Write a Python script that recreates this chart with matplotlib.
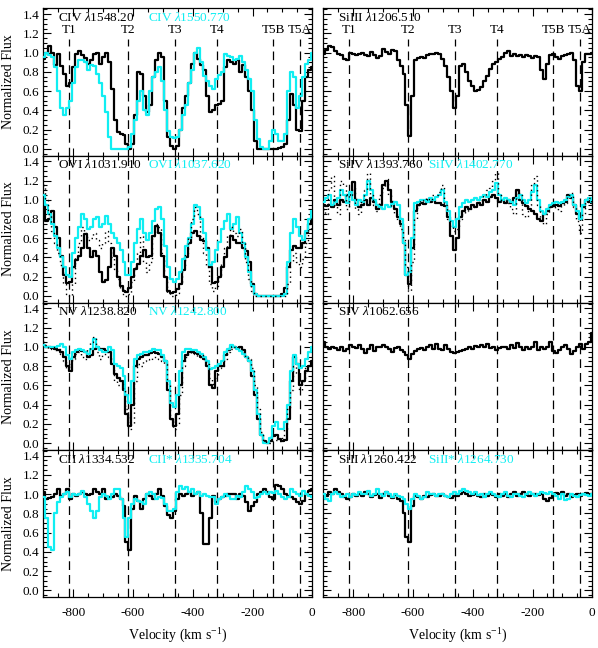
import numpy as np
import matplotlib
matplotlib.use('Agg')
import matplotlib.pyplot as plt
from matplotlib.ticker import MultipleLocator

plt.rcParams['font.family'] = ['Liberation Serif', 'DejaVu Serif']
plt.rcParams['mathtext.fontset'] = 'custom'
plt.rcParams['mathtext.rm'] = 'Liberation Serif'
plt.rcParams['mathtext.it'] = 'Liberation Serif:italic'
plt.rcParams['axes.unicode_minus'] = False

CYAN = '#10eef2'

# velocity grid (km/s), 10 km/s bins
vel = np.arange(-900, 1, 10)

# absorption components
comp_names = ['T1', 'T2', 'T3', 'T4', 'T5B', 'T5A']
comp_vel = [-815, -615, -460, -320, -130, -40]

# normalized fluxes, one value per velocity bin (-900 ... 0)
civ_1548 = [
    0.93, 1.00, 1.07, 1.00, 0.87, 0.98, 0.86, 0.78, 0.65, 0.68,
    0.85, 0.98, 1.02, 0.97, 0.94, 0.88, 0.92, 0.98, 1.00, 0.88,
    0.95, 1.00, 0.90, 0.62, 0.30, 0.17, 0.15, 0.14, 0.05, 0.00,
    0.05, 0.35, 0.80, 0.78, 0.55, 0.38, 0.45, 0.75, 0.92, 1.00,
    0.95, 0.50, 0.12, 0.03, 0.00, 0.03, 0.20, 0.42, 0.55, 0.68,
    0.88, 1.00, 0.93, 0.87, 0.82, 0.55, 0.38, 0.40, 0.45, 0.47,
    0.50, 0.85, 0.92, 0.90, 0.88, 0.92, 0.80, 0.87, 0.75, 0.60,
    0.40, 0.08, 0.00, 0.00, 0.00, 0.00, 0.00, 0.00, 0.00, 0.01,
    0.02, 0.05, 0.30, 0.57, 0.45, 0.20, 0.18, 0.50, 0.75, 0.82, 0.85]
civ_1550 = [
    0.95, 1.00, 0.97, 0.95, 0.85, 0.60, 0.42, 0.35, 0.42, 0.50,
    0.68, 0.85, 0.92, 0.92, 0.90, 0.82, 0.87, 0.86, 0.78, 0.68,
    0.55, 0.38, 0.12, 0.00, 0.00, 0.00, 0.00, 0.00, 0.00, 0.02,
    0.15, 0.30, 0.50, 0.60, 0.40, 0.35, 0.60, 0.75, 0.80, 0.85,
    0.70, 0.40, 0.18, 0.12, 0.11, 0.12, 0.20, 0.35, 0.45, 0.68,
    0.82, 1.00, 1.05, 0.90, 0.76, 0.70, 0.65, 0.62, 0.72, 0.77,
    0.80, 0.98, 0.96, 0.95, 0.92, 0.93, 0.96, 0.90, 0.82, 0.72,
    0.60, 0.30, 0.10, 0.02, 0.00, 0.00, 0.08, 0.20, 0.15, 0.08,
    0.08, 0.15, 0.60, 0.80, 0.75, 0.42, 0.55, 0.75, 0.88, 0.92, 1.00]
siiii_1206 = [
    0.99, 1.03, 1.07, 1.06, 1.02, 0.98, 0.97, 0.93, 0.92, 1.00,
    0.98, 0.97, 0.99, 1.00, 0.97, 0.96, 1.01, 0.97, 0.94, 0.96,
    1.04, 1.01, 0.99, 1.03, 1.02, 0.92, 0.86, 0.78, 0.45, 0.13,
    0.55, 0.92, 0.94, 0.95, 0.94, 0.97, 0.98, 0.99, 1.00, 0.99,
    0.93, 0.86, 0.75, 0.60, 0.42, 0.55, 0.86, 0.88, 0.80, 0.70,
    0.65, 0.60, 0.61, 0.64, 0.70, 0.76, 0.83, 0.88, 0.90, 0.93,
    0.95, 1.00, 1.02, 0.96, 0.99, 0.96, 0.97, 0.95, 0.97, 0.96,
    0.94, 0.96, 0.95, 0.82, 0.72, 0.88, 0.97, 0.98, 0.95, 0.93,
    0.96, 0.97, 0.99, 1.00, 0.92, 0.65, 0.60, 0.90, 0.99, 0.98, 1.00]
ovi_1031 = [
    0.97, 0.78, 0.80, 0.88, 0.72, 0.60, 0.42, 0.22, 0.13, 0.14,
    0.30, 0.37, 0.42, 0.50, 0.64, 0.50, 0.40, 0.47, 0.42, 0.25,
    0.15, 0.17, 0.30, 0.50, 0.42, 0.20, 0.10, 0.05, 0.04, 0.08,
    0.20, 0.28, 0.33, 0.42, 0.48, 0.40, 0.42, 0.62, 0.73, 0.65,
    0.42, 0.20, 0.05, 0.03, 0.04, 0.07, 0.12, 0.27, 0.40, 0.55,
    0.65, 0.68, 0.62, 0.58, 0.57, 0.50, 0.30, 0.13, 0.14, 0.20,
    0.30, 0.40, 0.50, 0.62, 0.58, 0.55, 0.55, 0.50, 0.47, 0.35,
    0.12, 0.02, 0.00, 0.00, 0.00, 0.00, 0.00, 0.00, 0.00, 0.00,
    0.02, 0.08, 0.30, 0.48, 0.52, 0.50, 0.50, 0.55, 0.65, 0.75, 0.80]
ovi_1037 = [
    1.05, 0.95, 0.85, 0.75, 0.62, 0.50, 0.40, 0.30, 0.22, 0.20,
    0.45, 0.60, 0.72, 0.85, 0.80, 0.70, 0.72, 0.80, 0.82, 0.72,
    0.75, 0.83, 0.75, 0.65, 0.60, 0.55, 0.48, 0.35, 0.22, 0.22,
    0.35, 0.55, 0.70, 0.80, 0.65, 0.58, 0.65, 0.78, 0.90, 0.92,
    0.80, 0.52, 0.30, 0.18, 0.15, 0.18, 0.25, 0.38, 0.52, 0.60,
    0.75, 0.95, 0.92, 0.80, 0.65, 0.48, 0.32, 0.35, 0.48, 0.56,
    0.70, 0.78, 0.85, 0.70, 0.75, 0.82, 0.65, 0.55, 0.40, 0.25,
    0.10, 0.02, 0.00, 0.00, 0.00, 0.00, 0.00, 0.00, 0.00, 0.00,
    0.00, 0.02, 0.35, 0.65, 0.80, 0.72, 0.62, 0.58, 0.68, 0.80, 0.88]
ovi_dot = [
    1.15, 1.00, 0.85, 0.68, 0.55, 0.45, 0.32, 0.12, 0.02, 0.00,
    0.12, 0.40, 0.55, 0.72, 0.65, 0.58, 0.60, 0.65, 0.58, 0.50,
    0.55, 0.68, 0.55, 0.40, 0.28, 0.18, 0.08, 0.00, 0.00, 0.02,
    0.15, 0.30, 0.45, 0.62, 0.35, 0.25, 0.35, 0.62, 0.75, 0.72,
    0.45, 0.20, 0.03, 0.00, 0.00, 0.03, 0.15, 0.28, 0.45, 0.60,
    0.80, 0.92, 0.85, 0.62, 0.45, 0.30, 0.12, 0.05, 0.10, 0.20,
    0.35, 0.50, 0.62, 0.72, 0.65, 0.62, 0.70, 0.55, 0.35, 0.18,
    0.05, 0.00, 0.00, 0.00, 0.00, 0.00, 0.00, 0.00, 0.00, 0.00,
    0.00, 0.00, 0.12, 0.35, 0.45, 0.35, 0.30, 0.38, 0.55, 0.70, 0.82]
siiv_1393 = [
    0.95, 0.93, 0.95, 0.92, 1.00, 0.95, 1.00, 0.98, 1.05, 1.05,
    1.18, 1.00, 0.92, 0.95, 1.00, 0.95, 1.02, 0.98, 0.90, 0.95,
    1.15, 1.20, 1.10, 0.98, 0.90, 0.82, 0.75, 0.55, 0.22, 0.12,
    0.50, 0.88, 0.95, 0.97, 0.96, 1.00, 0.98, 1.00, 0.97, 0.97,
    0.95, 0.94, 0.82, 0.62, 0.48, 0.60, 0.82, 0.88, 0.92, 0.90,
    0.95, 0.92, 0.97, 0.95, 1.00, 0.98, 1.03, 1.05, 1.02, 0.98,
    1.00, 0.97, 1.00, 0.97, 1.02, 1.10, 1.00, 0.97, 0.93, 0.90,
    0.88, 0.85, 0.80, 0.78, 0.85, 0.88, 0.92, 0.93, 0.95, 0.93,
    0.97, 0.98, 1.05, 1.02, 0.95, 0.85, 0.80, 0.92, 1.00, 0.98, 0.97]
siiv_1402 = [
    0.98, 1.02, 1.05, 0.95, 0.98, 1.02, 1.10, 1.05, 0.97, 1.08,
    1.00, 0.95, 1.00, 0.98, 1.05, 1.20, 1.10, 1.00, 0.95, 0.92,
    0.90, 0.95, 0.92, 0.96, 0.98, 0.95, 0.80, 0.55, 0.22, 0.25,
    0.60, 0.97, 0.98, 1.00, 1.00, 0.98, 1.02, 1.00, 1.03, 1.05,
    1.10, 0.98, 0.88, 0.78, 0.72, 0.80, 0.92, 0.97, 1.00, 0.98,
    1.00, 1.02, 1.00, 1.03, 1.05, 1.03, 1.08, 1.10, 1.17, 1.05,
    1.00, 1.02, 1.00, 0.98, 0.95, 1.02, 1.05, 1.00, 0.97, 1.00,
    1.08, 1.15, 1.00, 0.88, 0.85, 0.90, 0.95, 0.97, 0.98, 0.97,
    0.98, 1.00, 1.03, 1.05, 0.95, 0.88, 0.80, 0.95, 1.00, 1.02, 0.98]
siiv_dot = [
    0.90, 0.85, 1.10, 1.25, 0.95, 0.85, 1.20, 1.15, 0.90, 1.05,
    1.12, 0.90, 0.85, 1.00, 1.10, 1.28, 1.05, 0.95, 0.88, 1.05,
    1.12, 1.22, 1.05, 0.92, 0.85, 0.78, 0.70, 0.60, 0.30, 0.05,
    0.35, 0.80, 0.95, 1.00, 0.97, 1.02, 1.00, 1.05, 1.05, 1.08,
    1.15, 0.95, 0.80, 0.72, 0.68, 0.70, 0.80, 0.85, 0.88, 0.90,
    0.92, 0.95, 0.98, 1.00, 1.05, 1.10, 1.12, 1.20, 1.28, 1.05,
    0.98, 1.00, 0.97, 0.90, 0.85, 1.10, 1.05, 0.85, 0.82, 0.95,
    1.15, 1.25, 0.95, 0.80, 0.75, 0.85, 0.92, 0.95, 0.90, 0.88,
    0.93, 0.97, 1.05, 1.07, 0.92, 0.78, 0.65, 0.85, 0.98, 1.02, 0.97]
nv_1238 = [
    1.02, 1.00, 1.00, 0.99, 0.98, 0.97, 0.95, 0.90, 0.80, 0.75,
    0.90, 0.95, 0.97, 0.96, 0.95, 0.90, 0.92, 0.98, 1.00, 0.98,
    0.98, 0.96, 0.95, 0.82, 0.72, 0.68, 0.65, 0.55, 0.30, 0.18,
    0.40, 0.80, 0.88, 0.90, 0.92, 0.92, 0.94, 0.95, 0.94, 0.93,
    0.90, 0.85, 0.55, 0.25, 0.18, 0.30, 0.60, 0.85, 0.92, 0.95,
    0.95, 0.94, 0.93, 0.90, 0.88, 0.80, 0.60, 0.57, 0.75, 0.80,
    0.80, 0.92, 0.97, 1.00, 1.00, 0.99, 1.00, 0.97, 0.90, 0.85,
    0.70, 0.50, 0.25, 0.08, 0.02, 0.00, 0.02, 0.07, 0.08, 0.04,
    0.02, 0.03, 0.25, 0.65, 0.90, 0.82, 0.60, 0.65, 0.75, 0.80, 0.85]
nv_1242 = [
    1.02, 1.00, 1.00, 1.00, 1.00, 1.01, 1.03, 1.00, 0.92, 0.88,
    0.95, 0.97, 0.98, 0.97, 0.95, 0.93, 0.98, 1.08, 1.00, 0.97,
    0.95, 0.95, 1.00, 0.97, 0.82, 0.80, 0.78, 0.70, 0.50, 0.42,
    0.65, 0.88, 0.92, 0.93, 0.95, 0.95, 0.96, 0.98, 0.97, 0.97,
    0.92, 0.85, 0.65, 0.42, 0.38, 0.50, 0.75, 0.95, 0.98, 0.98,
    0.97, 0.97, 0.95, 0.93, 0.90, 0.85, 0.77, 0.78, 0.80, 0.82,
    0.85, 0.95, 0.98, 1.02, 1.00, 0.98, 0.96, 0.93, 0.90, 0.85,
    0.75, 0.55, 0.30, 0.08, 0.00, 0.00, 0.05, 0.18, 0.22, 0.15,
    0.15, 0.22, 0.40, 0.75, 0.92, 0.82, 0.78, 0.80, 0.88, 0.95, 1.00]
nv_dot = [
    1.05, 1.02, 0.98, 1.00, 0.97, 0.98, 0.93, 0.85, 0.78, 0.82,
    0.88, 0.93, 0.95, 0.90, 0.87, 0.98, 1.05, 1.10, 0.95, 0.88,
    0.92, 0.95, 0.90, 0.80, 0.65, 0.60, 0.62, 0.55, 0.35, 0.15,
    0.20, 0.65, 0.82, 0.80, 0.85, 0.88, 0.86, 0.90, 0.90, 0.87,
    0.85, 0.82, 0.60, 0.25, 0.15, 0.20, 0.50, 0.80, 0.90, 0.93,
    0.95, 0.93, 0.90, 0.92, 0.88, 0.82, 0.68, 0.62, 0.68, 0.78,
    0.80, 0.88, 0.95, 0.98, 1.00, 1.00, 0.98, 0.95, 0.90, 0.88,
    0.78, 0.60, 0.35, 0.12, 0.03, 0.00, 0.00, 0.02, 0.03, 0.02,
    0.05, 0.15, 0.35, 0.55, 0.80, 0.72, 0.55, 0.65, 0.78, 0.82, 0.85]
siv_1062 = [
    1.05, 1.00, 0.98, 1.00, 0.99, 0.97, 1.00, 0.96, 0.98, 1.02,
    1.00, 0.99, 1.02, 0.98, 0.94, 0.98, 1.02, 0.96, 1.00, 1.00,
    1.02, 1.00, 0.98, 0.95, 0.99, 1.00, 0.97, 0.95, 0.92, 0.88,
    0.93, 0.96, 0.98, 0.99, 0.97, 1.00, 1.02, 0.98, 1.03, 0.98,
    0.97, 1.02, 0.98, 0.95, 0.94, 0.95, 0.96, 0.97, 0.98, 1.00,
    0.98, 1.01, 1.00, 1.02, 1.00, 1.03, 0.99, 1.00, 0.97, 0.99,
    1.00, 1.00, 0.98, 1.02, 0.99, 1.04, 1.00, 0.97, 1.00, 0.98,
    1.00, 1.05, 0.97, 1.00, 0.98, 1.00, 1.05, 0.96, 0.94, 0.97,
    1.00, 1.02, 0.98, 0.93, 0.96, 1.00, 1.03, 0.98, 1.03, 1.05, 1.15]
cii_1334 = [
    1.02, 0.95, 0.96, 0.97, 1.00, 1.05, 0.98, 1.00, 1.05, 0.95,
    1.00, 0.98, 1.00, 1.02, 1.00, 0.99, 1.00, 1.05, 1.02, 1.00,
    1.05, 0.95, 0.97, 0.97, 1.00, 0.98, 0.95, 0.88, 0.50, 0.42,
    0.85, 0.98, 0.93, 0.85, 0.95, 1.00, 0.98, 0.95, 1.00, 1.05,
    0.98, 0.88, 0.78, 0.75, 0.82, 0.95, 1.00, 0.98, 1.00, 1.02,
    0.98, 1.00, 1.02, 0.80, 0.48, 0.48, 0.75, 0.98, 0.92, 0.95,
    0.97, 0.98, 1.00, 1.00, 1.00, 0.95, 1.00, 0.98, 0.92, 0.82,
    0.88, 0.92, 1.00, 1.02, 1.05, 1.02, 0.97, 0.95, 1.10, 1.08,
    1.05, 1.00, 0.98, 0.97, 0.95, 0.92, 0.90, 0.93, 1.00, 1.03, 1.05]
cii_1335 = [
    0.97, 0.75, 0.45, 0.42, 0.80, 0.92, 0.97, 1.00, 1.02, 0.97,
    1.00, 0.99, 1.00, 1.03, 0.97, 0.90, 0.82, 0.75, 0.82, 0.97,
    1.00, 0.98, 0.95, 1.00, 1.05, 1.05, 0.95, 0.75, 0.55, 0.75,
    0.90, 0.95, 0.93, 0.92, 0.90, 1.00, 1.02, 1.00, 0.95, 0.97,
    0.96, 0.90, 0.83, 0.82, 0.85, 1.02, 1.08, 1.05, 1.07, 1.02,
    1.05, 1.00, 1.02, 0.98, 1.00, 0.98, 0.97, 0.97, 0.90, 0.95,
    0.97, 1.00, 0.98, 0.95, 0.95, 0.98, 0.97, 1.02, 1.08, 1.05,
    1.02, 0.96, 0.97, 1.00, 1.02, 1.00, 1.02, 1.01, 1.03, 1.00,
    0.97, 0.95, 0.97, 1.05, 1.02, 1.00, 0.98, 1.03, 1.00, 0.98, 0.97]
sii_1260 = [
    1.00, 0.98, 1.02, 1.00, 1.05, 1.02, 1.00, 0.97, 0.95, 0.97,
    1.00, 0.98, 1.00, 0.98, 1.02, 1.00, 0.97, 0.99, 1.00, 0.96,
    1.00, 1.02, 0.98, 0.96, 0.99, 0.95, 0.93, 0.80, 0.55, 0.50,
    0.88, 0.98, 0.97, 0.95, 0.98, 0.97, 0.99, 1.00, 0.98, 0.98,
    1.00, 0.98, 0.97, 0.96, 0.98, 0.98, 1.00, 1.02, 1.00, 0.98,
    0.99, 1.00, 0.98, 0.97, 1.00, 0.98, 1.00, 0.99, 0.97, 1.00,
    0.98, 1.00, 0.97, 1.00, 1.02, 0.98, 1.00, 1.02, 0.99, 0.98,
    1.00, 1.00, 0.99, 1.00, 0.95, 0.93, 0.96, 1.00, 1.01, 1.00,
    1.02, 0.98, 1.00, 0.97, 0.99, 1.00, 0.98, 1.00, 1.01, 1.00, 1.00]
sii_1264 = [
    1.00, 0.95, 0.93, 1.00, 1.02, 1.00, 0.97, 0.98, 1.00, 0.97,
    1.00, 0.99, 1.02, 1.00, 1.00, 1.03, 0.98, 1.00, 1.05, 1.00,
    0.98, 1.02, 1.00, 0.97, 1.00, 0.98, 0.97, 0.95, 0.90, 0.85,
    0.95, 1.00, 0.98, 0.95, 0.97, 1.02, 1.00, 1.00, 0.98, 1.00,
    1.00, 0.98, 0.97, 1.00, 1.02, 1.00, 1.03, 1.05, 1.03, 1.02,
    1.00, 1.02, 0.99, 1.00, 0.97, 1.00, 1.02, 1.00, 0.98, 0.97,
    1.00, 1.02, 0.98, 0.97, 1.00, 1.00, 0.98, 0.97, 1.00, 1.02,
    1.00, 0.98, 1.00, 1.02, 1.01, 1.00, 1.02, 1.00, 0.98, 0.95,
    1.00, 0.94, 0.95, 1.00, 0.98, 0.97, 0.99, 1.00, 0.99, 0.98, 1.00]

# (row, col, black label, cyan label, black flux, cyan flux, dotted flux)
panels = [
    (0, 0, 'CIV $\\lambda$1548.20', 'CIV $\\lambda$1550.770', civ_1548, civ_1550, None),
    (0, 1, 'SiIII $\\lambda$1206.510', None, siiii_1206, None, None),
    (1, 0, 'OVI $\\lambda$1031.910', 'OVI $\\lambda$1037.620', ovi_1031, ovi_1037, ovi_dot),
    (1, 1, 'SiIV $\\lambda$1393.760', 'SiIV $\\lambda$1402.770', siiv_1393, siiv_1402, siiv_dot),
    (2, 0, 'NV $\\lambda$1238.820', 'NV $\\lambda$1242.800', nv_1238, nv_1242, nv_dot),
    (2, 1, 'SIV $\\lambda$1062.656', None, siv_1062, None, None),
    (3, 0, 'CII $\\lambda$1334.532', 'CII* $\\lambda$1335.704', cii_1334, cii_1335, None),
    (3, 1, 'SiII $\\lambda$1260.422', 'SiII* $\\lambda$1264.730', sii_1260, sii_1264, None),
]

W, H = 598, 648
fig = plt.figure(figsize=(W / 100, H / 100), dpi=100)
col_x = [43.3, 323.3]
pw, ph, top = 269.0, 147.2, 8.3
ymin, ymax = -0.07, 1.46
fs = 9.5
tfs = 9.5

for row, col, lab_a, lab_b, fa, fb, fd in panels:
    ax = fig.add_axes([col_x[col] / W, 1 - (top + (row + 1) * ph) / H, pw / W, ph / H])
    ax.set_xlim(-900, 0)
    ax.set_ylim(ymin, ymax)

    ytop = 1.14 if row == 0 else ymax
    for v in comp_vel:
        ax.plot([v, v], [ymin, ytop], color='black', lw=0.9, ls=(0, (7, 4)), zorder=1)
    if row == 0:
        for name, v in zip(comp_names, comp_vel):
            ax.text(v, 1.235, name, ha='center', va='center', fontsize=fs)

    ax.step(vel, fa, where='mid', color='black', lw=1.6, zorder=3)
    if fb is not None:
        ax.step(vel, fb, where='mid', color=CYAN, lw=1.6, zorder=4)
    if fd is not None:
        ax.step(vel, fd, where='mid', color='black', lw=1.0, ls=(0, (1, 2.5)), zorder=5)

    ax.text(0.055, 1.365, lab_a, transform=ax.get_yaxis_transform(), fontsize=fs,
            va='center', ha='left', color='black')
    if lab_b:
        ax.text(0.39, 1.365, lab_b, transform=ax.get_yaxis_transform(), fontsize=fs,
                va='center', ha='left', color=CYAN)

    ax.xaxis.set_major_locator(MultipleLocator(200))
    ax.xaxis.set_minor_locator(MultipleLocator(50))
    ax.yaxis.set_major_locator(MultipleLocator(0.2))
    ax.yaxis.set_minor_locator(MultipleLocator(0.05))
    ax.tick_params(which='both', direction='in', top=True, right=True, labelsize=tfs)
    ax.tick_params(which='major', length=6, width=0.8)
    ax.tick_params(which='minor', length=3, width=0.8)
    ax.tick_params(axis='x', pad=7)
    ax.tick_params(axis='y', pad=3)
    for s in ax.spines.values():
        s.set_linewidth(0.9)

    if col == 0:
        ax.yaxis.set_major_formatter(matplotlib.ticker.FormatStrFormatter('%.1f'))
        ax.set_ylabel('Normalized Flux', fontsize=10)
        ax.yaxis.set_label_coords(-0.105, 0.5)
    else:
        ax.set_yticklabels([])
    if row == 3:
        ax.set_xticks([-800, -600, -400, -200, 0])
        ax.set_xticklabels(['-800', '-600', '-400', '-200', '0'])
        ax.set_xlabel('Velocity (km s$^{-1}$)', fontsize=10)
        ax.xaxis.set_label_coords(0.5, -0.2)
    else:
        ax.set_xticklabels([])

fig.savefig('out.png', dpi=100)
